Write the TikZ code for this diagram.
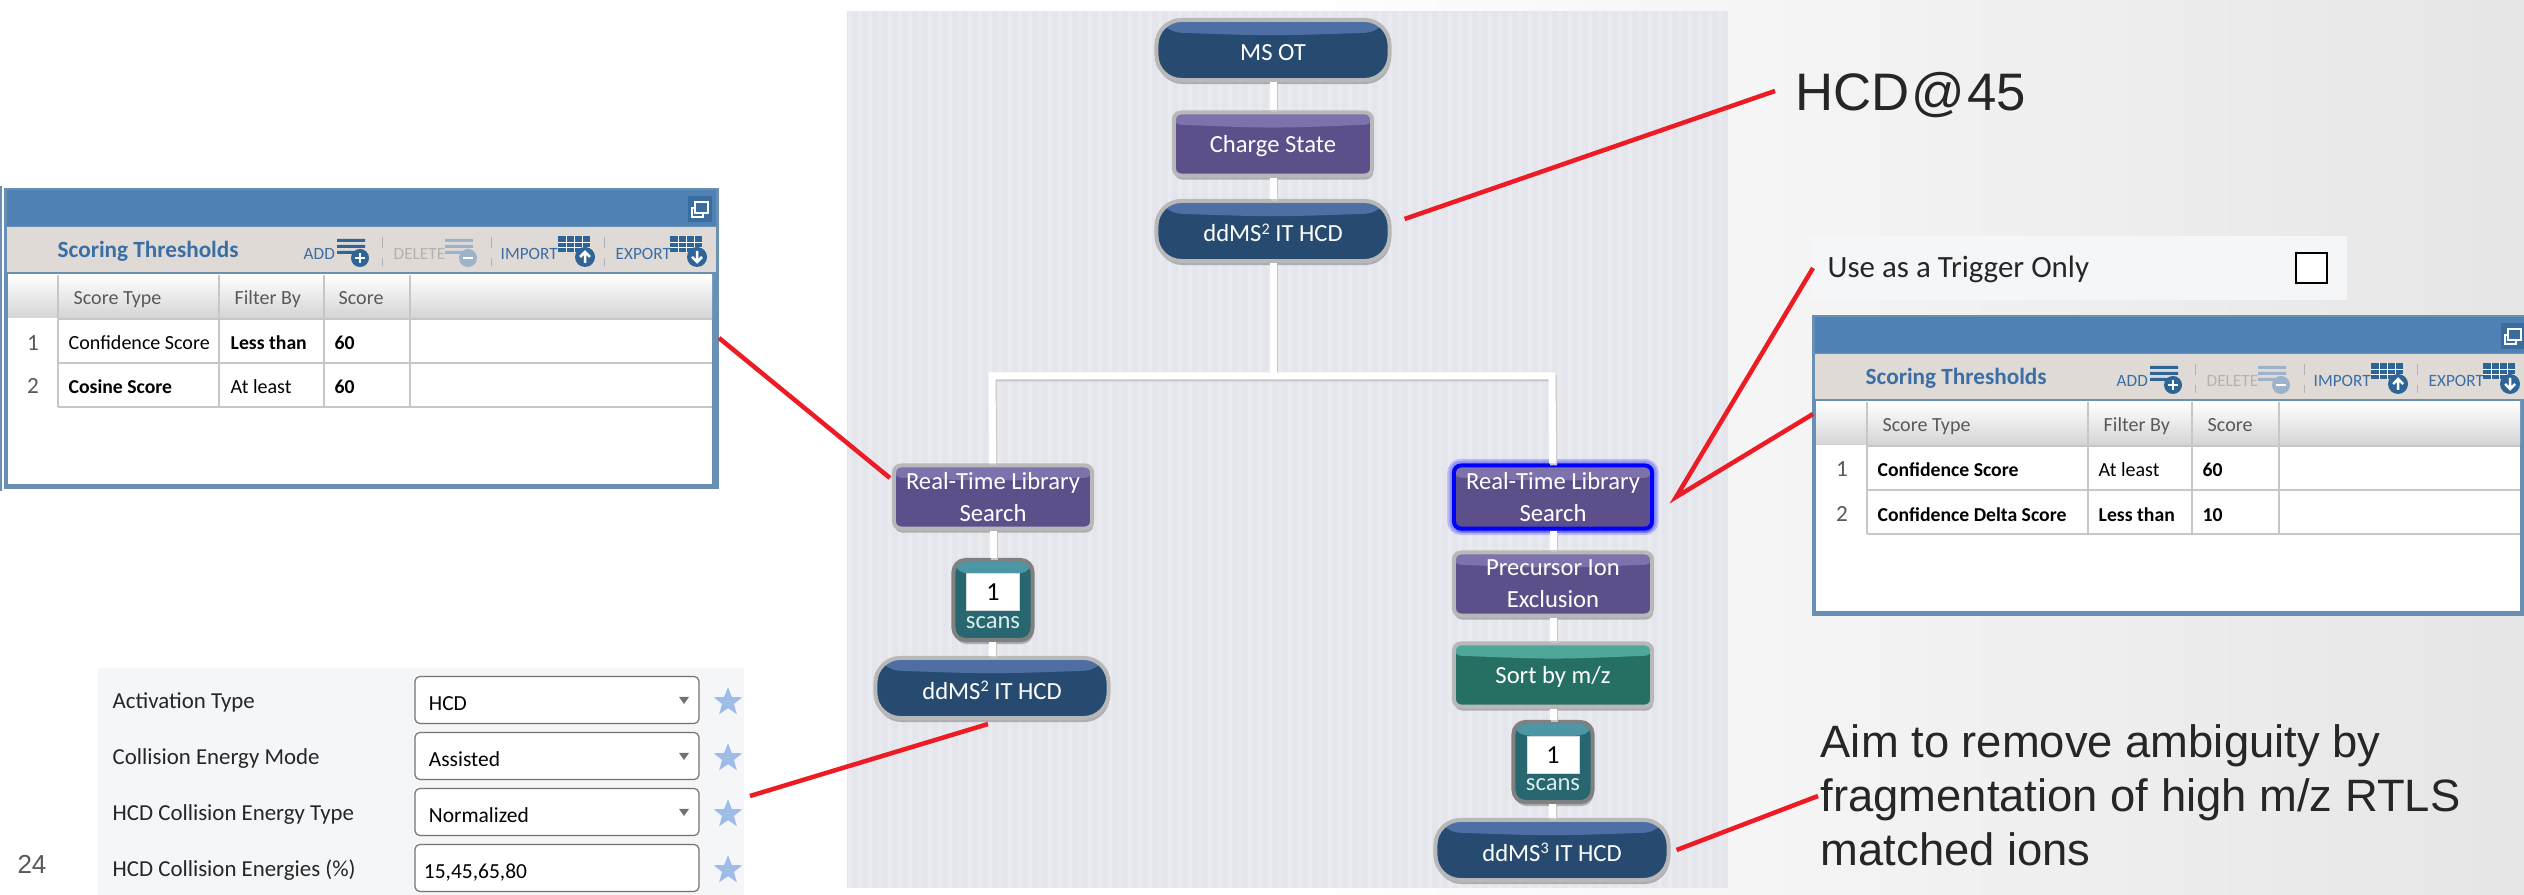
\documentclass[tikz,border=0pt]{standalone}
\usepackage{fontspec}
\setmainfont{Carlito}
\newfontfamily\slidefont{Liberation Sans}
\usetikzlibrary{shapes.geometric, shadows}

\definecolor{navyfill}{HTML}{274B70}
\definecolor{navyband}{HTML}{4E6FA3}
\definecolor{purplefill}{HTML}{5C4F8A}
\definecolor{purpleband}{HTML}{7D72AB}
\definecolor{greenfill}{HTML}{267063}
\definecolor{greenband}{HTML}{4FA69A}
\definecolor{tealfill}{HTML}{28676F}
\definecolor{tealband}{HTML}{4D96A6}
\definecolor{panelgray}{HTML}{E4E6EC}
\definecolor{paleblue}{HTML}{F5F6F8}
\definecolor{titleblue}{HTML}{4F81B5}
\definecolor{rimblue}{HTML}{6A8FB5}
\definecolor{toolgray}{HTML}{DFDAD6}
\definecolor{iconblue}{HTML}{2F6596}
\definecolor{icongray}{HTML}{9DB3C9}
\definecolor{headblue}{HTML}{3A6EA5}
\definecolor{starblue}{HTML}{9DBDE6}
\definecolor{calloutred}{HTML}{ED1C24}

\newcommand{\upnum}[1]{\raisebox{.6ex}{\fontsize{4.6}{5}\selectfont #1}}

\tikzset{
  flownode/.style={draw=#1, line width=.04cm, minimum width=2.33cm, minimum height=.6cm,
    text=white, align=center, font=\fontsize{7}{9}\selectfont, inner sep=0pt},
  flownode/.default={black!28},
  gloss/.style 2 args={fill=#1, path picture={
    \fill[#2] (path picture bounding box.north west) -- ([yshift=-.12cm]path picture bounding box.north west)
      .. controls ([yshift=-.16cm]path picture bounding box.north) and ([yshift=-.16cm]path picture bounding box.north) .. ([yshift=-.12cm]path picture bounding box.north east)
      -- (path picture bounding box.north east) -- cycle;
    }},
  softshadow/.style={drop shadow={shadow xshift=.01cm, shadow yshift=-.04cm, opacity=.25, fill=black}},
  pillnode/.style={flownode, rounded corners=.25cm, text height=.26cm, text depth=.04cm, gloss={navyfill}{navyband}, softshadow},
  filternode/.style={flownode, rounded corners=.07cm, minimum width=1.98cm, minimum height=.63cm, gloss={purplefill}{purpleband}, softshadow},
  sortnode/.style={filternode, text height=.22cm, text depth=.05cm, gloss={greenfill}{greenband}},
  scansnode/.style={flownode=black!50, rounded corners=.12cm, minimum width=.79cm, minimum height=.8cm, gloss={tealfill}{tealband}, softshadow},
  countbox/.style={draw=black!15, line width=.01cm, fill=white, minimum width=.52cm, minimum height=.37cm,
    inner sep=0pt, font=\fontsize{7.4}{9}\selectfont},
  scanstext/.style={text=white!85!teal, inner sep=0pt, font=\fontsize{7}{8}\selectfont},
  wire/.style={draw=white, line width=.07cm,
    preaction={draw=black!22, line width=.07cm, transform canvas={shift={(1,2)}}}},
  callout/.style={draw=calloutred, line width=.045cm},
  slidetext/.style={inner sep=0pt, anchor=west, text=black!85, font=\slidefont\fontsize{12.9}{15.4}\selectfont, align=left},
  celltext/.style={inner sep=0pt, anchor=west, text height=.2cm, text depth=.04cm, font=\fontsize{5.7}{7}\selectfont},
  cellbold/.style={celltext, font=\bfseries\fontsize{5.6}{7}\selectfont},
  headtext/.style={celltext, text=black!65},
  rownum/.style={celltext, anchor=center, text=black!65, font=\fontsize{6.6}{8}\selectfont},
  tooltext/.style={inner sep=0pt, anchor=west, text height=.2cm, text depth=.04cm, font=\fontsize{4.9}{7}\selectfont},
  formtext/.style={inner sep=0pt, anchor=west, text height=.2cm, text depth=.04cm, text=black!85, font=\fontsize{6.5}{8}\selectfont},
  inputbox/.style={draw=black!55, line width=.012cm, fill=white, rounded corners=.05cm, minimum width=2.84cm, minimum height=.47cm,
    text width=2.56cm, text height=.24cm, text depth=.04cm, align=left, inner sep=0pt, font=\fontsize{6.1}{7}\selectfont},
  starmark/.style={star, star points=5, star point ratio=2.4, fill=starblue, minimum size=.3cm, inner sep=0pt},
  pics/listicon/.style 2 args={code={
    \fill[#1] (0,0) rectangle (28,3) (0,6) rectangle (28,9) (0,12) rectangle (18,15);
    \fill[#1] (23,19) circle (9);
    \draw[white, line width=.025cm] #2;
  }},
  pics/gridicon/.style 2 args={code={
    \fill[#1] (0,0) rectangle (32,16);
    \draw[white, line width=.004cm] (0,6) -- (32,6) (0,11) -- (32,11) (8,0) -- (8,16) (16,0) -- (16,16) (24,0) -- (24,16);
    \fill[#1] (27,21) circle (10);
    \draw[white, line width=.025cm] #2;
  }},
}

% one scoring table: name, corner, four column lines, shift of the tool bar
\newcommand{\scorepanel}[7]{
  \begin{scope}[shift={#2}]
    \fill[rimblue] (0,0) rectangle (715,301);
    \fill[titleblue] (3,2) rectangle (712,38);
    \fill[toolgray] (3,39) rectangle (712,84);
    \fill[white] (4,87) rectangle (708,296);
    \shade[top color=white, bottom color=black!17] (4,87) rectangle (708,130);
    \draw[black!22, line width=.015cm] (#3,87) -- (#3,219) (#4,87) -- (#4,219) (#5,87) -- (#5,219) (#6,87) -- (#6,219);
    \draw[black!22, line width=.015cm] (#3,131) -- (708,131) (#3,175) -- (708,175) (#3,219) -- (708,219);
    \node[tooltext, text=headblue, font=\bfseries\fontsize{6.6}{8}\selectfont] (#1title) at (53,62) {Scoring Thresholds};
    \begin{scope}[shift={(#7,0)}]
      \node[tooltext, text=headblue] (#1add) at (299,64) {ADD};
      \pic at (333,51) {listicon={iconblue}{(18,19) -- (28,19) (23,14) -- (23,24)}};
      \node[tooltext, text=black!30] (#1delete) at (389,64) {DELETE};
      \pic at (441,51) {listicon={icongray}{(18,19) -- (28,19)}};
      \node[tooltext, text=headblue] (#1import) at (496,64) {IMPORT};
      \pic at (554,48) {gridicon={iconblue}{(27,27) -- (27,16) (22,21) -- (27,16) -- (32,21)}};
      \node[tooltext, text=headblue] (#1export) at (611,64) {EXPORT};
      \pic at (666,48) {gridicon={iconblue}{(27,15) -- (27,26) (22,21) -- (27,26) -- (32,21)}};
      \draw[black!30, line width=.01cm, dashed] (378,49) -- (378,78) (487,49) -- (487,78) (600,49) -- (600,78);
      \fill[iconblue!70!titleblue] (684,8) rectangle (708,34);
      \draw[white, line width=.012cm] (691,14) rectangle (704,25) (691,20) -- (688,20) -- (688,29) -- (699,29) -- (699,25);
    \end{scope}
  \end{scope}
}

\begin{document}
\begin{tikzpicture}[x=.01cm, y=-.01cm]
  \useasboundingbox (0,0) rectangle (2524,895);
  \shade[left color=white, right color=black!10, middle color=white] (0,0) rectangle (2524,895);

  % Method panel
  \fill[panelgray] (847,11) rectangle (1728,888);
  \foreach \x in {850,860,...,1728} {
    \draw[white, opacity=.18, line width=.04cm] (\x,11) -- (\x,888);
  }

  % Nodes
  \node[pillnode] (msot) at (1273,50) {MS OT};
  \node[filternode, text height=.22cm, text depth=.05cm] (charge) at (1273,144) {Charge State};
  \node[pillnode] (ddmstop) at (1273,231) {ddMS\upnum{2} IT HCD};
  \coordinate (teeleft) at (992,376);
  \coordinate (teeright) at (1552,376);
  \node[filternode] (rtlsleft) at (993,497) {Real-Time Library\\Search};
  \node[scansnode] (scansleft) at (993,600) {};
  \node[countbox] (countleft) at (993,592) {1};
  \node[scanstext] (scanstextleft) at (993,623) {scans};
  \node[pillnode] (ddmsleft) at (992,688) {ddMS\upnum{2} IT HCD};
  \node[filternode, draw=blue, preaction={draw=blue, opacity=.2, line width=.13cm}, preaction={draw=blue, opacity=.2, line width=.09cm}] (rtlsright) at (1553,497) {Real-Time Library\\Search};
  \node[filternode] (excl) at (1553,584) {Precursor Ion\\Exclusion};
  \node[sortnode] (sort) at (1553,675) {Sort by m/z};
  \node[scansnode] (scansright) at (1553,762) {};
  \node[countbox] (countright) at (1553,755) {1};
  \node[scanstext] (scanstextright) at (1553,785) {scans};
  \node[pillnode] (ddmsright) at (1552,850) {ddMS\upnum{3} IT HCD};

  % Edges
  \draw[wire] (msot) -- (charge);
  \draw[wire] (charge) -- (ddmstop);
  \draw[wire] (ddmstop) -- (ddmstop |- teeleft);
  \draw[wire] (rtlsleft) -- (teeleft) -- (teeright) -- (rtlsright);
  \draw[wire] (rtlsleft) -- (scansleft);
  \draw[wire] (scansleft) -- (ddmsleft);
  \draw[wire] (rtlsright) -- (excl);
  \draw[wire] (excl) -- (sort);
  \draw[wire] (sort) -- (scansright);
  \draw[wire] (scansright) -- (ddmsright);

  % Tables
  \fill[rimblue] (0,186) rectangle (2,491);
  \scorepanel{left}{(4,188)}{54}{215}{320}{406}{0}
  \node[headtext] (lefttype) at (73,297) {Score Type};
  \node[headtext] (leftfilter) at (234,297) {Filter By};
  \node[headtext] (leftscore) at (338,297) {Score};
  \node[rownum] (leftone) at (33,343) {1};
  \node[celltext] (leftconf) at (68,342) {Confidence Score};
  \node[cellbold] (leftless) at (230,342) {Less than};
  \node[cellbold] (leftsixty) at (334,342) {60};
  \node[rownum] (lefttwo) at (33,386) {2};
  \node[cellbold] (leftcos) at (68,386) {Cosine Score};
  \node[celltext] (leastleft) at (230,386) {At least};
  \node[cellbold] (leftsixtyb) at (334,386) {60};

  \scorepanel{right}{(1812,315)}{55}{276}{380}{467}{5}
  \node[headtext] (righttype) at (1882,424) {Score Type};
  \node[headtext] (rightfilter) at (2103,424) {Filter By};
  \node[headtext] (rightscore) at (2207,424) {Score};
  \node[rownum] (rightone) at (1842,469) {1};
  \node[cellbold] (rightconf) at (1877,469) {Confidence Score};
  \node[celltext] (leastright) at (2098,469) {At least};
  \node[cellbold] (rightsixty) at (2202,469) {60};
  \node[rownum] (righttwo) at (1842,514) {2};
  \node[cellbold] (rightdelta) at (1877,514) {Confidence Delta Score};
  \node[cellbold] (rightless) at (2098,514) {Less than};
  \node[cellbold] (rightten) at (2202,514) {10};

  % Trigger box
  \node[fill=paleblue, minimum width=5.35cm, minimum height=.64cm, inner sep=0pt] (trigger) at (2079,268) {};
  \node[formtext, font=\fontsize{8.8}{10}\selectfont] (triggertext) at (1827,270) {Use as a Trigger Only};
  \node[draw=black, line width=.02cm, fill=white, minimum width=.31cm, minimum height=.3cm, inner sep=0pt] (checkbox) at (2311,268) {};

  % Settings form
  \fill[paleblue] (98,668) rectangle (744,895);
  \foreach \y/\name/\label/\val in {700/act/Activation Type/HCD, 756/mode/Collision Energy Mode/Assisted, 812/kind/HCD Collision Energy Type/Normalized} {
    \node[formtext] (\name text) at (112,\y) {\label};
    \node[inputbox] (\name box) at (557,\y) {\val};
    \fill[black!55] (679,\y-3) -- (689,\y-3) -- (684,\y+4) -- cycle;
    \node[starmark] (\name star) at (728,\y+2) {};
  }
  \node[formtext] (energytext) at (112,868) {HCD Collision Energies (\%)};
  \node[inputbox] (energybox) at (557,868) {\hspace*{-.05cm}15,45,65,80};
  \node[starmark] (energystar) at (728,870) {};
  \node[inner sep=0pt, text=black!65, font=\slidefont\fontsize{7.4}{9}\selectfont] (pagenum) at (32,864) {24};

  % Slide texts
  \node[slidetext, font=\slidefont\fontsize{15}{18}\selectfont] (hcdtext) at (1795,95) {HCD\kern.02cm@\kern.02cm 45};
  \node[slidetext] (aimtext) at (1820,795) {Aim to remove ambiguity by\\fragmentation of high m/z RTLS\\matched ions};

  % Callouts
  \coordinate (hcdend) at (1775,91);
  \coordinate (leftend) at (719,338);
  \coordinate (formend) at (750,796);
  \coordinate (trigend) at (1813,268);
  \coordinate (tableend) at (1813,414);
  \coordinate (aimend) at (1818,796);
  \draw[callout] ([shift={(13,-12)}]ddmstop.east) -- (hcdend);
  \draw[callout] ([shift={(-2,-19)}]rtlsleft.west) -- (leftend);
  \draw[callout] ([shift={(-4,4)}]ddmsleft.south) -- (formend);
  \draw[callout, line join=miter] (trigend) -- ([xshift=.22cm]rtlsright.east) -- (tableend);
  \draw[callout] ([xshift=.06cm]ddmsright.east) -- (aimend);
\end{tikzpicture}
\end{document}
